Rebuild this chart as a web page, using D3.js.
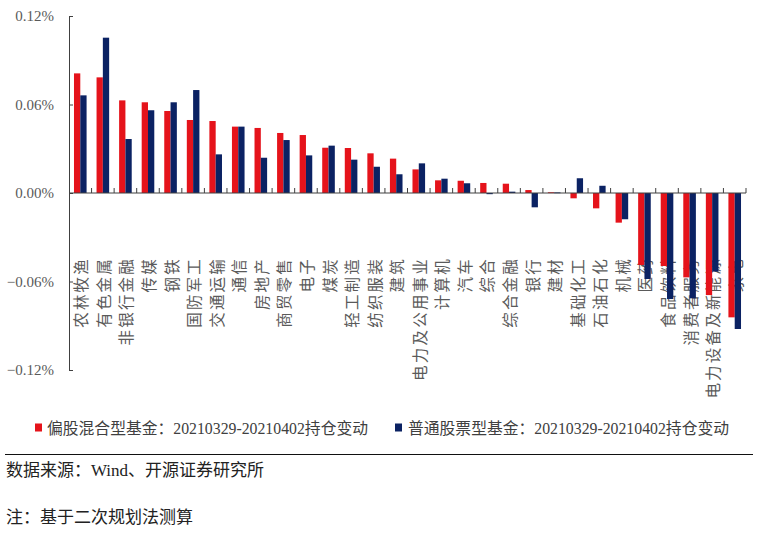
<!DOCTYPE html>
<html>
<head>
<meta charset="utf-8">
<script src="https://cdn.jsdelivr.net/npm/d3@7"></script>
<style>
  html, body { margin: 0; padding: 0; background: #fff; }
  svg { display: block; }
</style>
</head>
<body>
<div id="root"></div>
<script>
// 行业与两类基金持仓变动 (%)
const categories = ["农林牧渔", "有色金属", "非银行金融", "传媒", "钢铁", "国防军工", "交通运输", "通信", "房地产", "商贸零售",
  "电子", "煤炭", "轻工制造", "纺织服装", "建筑", "电力及公用事业", "计算机", "汽车", "综合", "综合金融",
  "银行", "建材", "基础化工", "石油石化", "机械", "医药", "食品饮料", "消费者服务", "电力设备及新能源", "家电"]
const mixedFund = [0.0811, 0.0784, 0.0628, 0.0615, 0.0556, 0.0495, 0.0488, 0.0450, 0.0441, 0.0407,
  0.0393, 0.0307, 0.0305, 0.0269, 0.0233, 0.0160, 0.0086, 0.0083, 0.0068, 0.0063,
  0.0020, 0.0005, -0.0036, -0.0104, -0.0201, -0.0488, -0.0495, -0.0572, -0.0692, -0.0843]
const stockFund = [0.0662, 0.1053, 0.0366, 0.0561, 0.0615, 0.0698, 0.0262, 0.0450, 0.0239, 0.0359,
  0.0255, 0.0321, 0.0226, 0.0178, 0.0127, 0.0201, 0.0097, 0.0066, -0.0008, 0.0009,
  -0.0097, 0.0004, 0.0100, 0.0049, -0.0178, -0.0583, -0.0719, -0.0714, -0.0533, -0.0922]
const yTicks = [-0.12, -0.06, 0, 0.06, 0.12]
const seriesNames = ["偏股混合型基金：20210329-20210402持仓变动", "普通股票型基金：20210329-20210402持仓变动"]
const seriesColors = ["#E5131B", "#0B2263"]
const sourceText = "数据来源：Wind、开源证券研究所"
const noteText = "注：基于二次规划法测算"

const W = 769, H = 535
const plot = { left: 69, right: 746, top: 16, bottom: 370 }
const latinCjk = "'Liberation Serif', 'Noto Sans CJK SC', serif"
const cjk = "'Noto Sans CJK SC', sans-serif"

const svg = d3.select("#root").append("svg")
  .attr("width", W).attr("height", H)

const rows = categories.map((c, i) => ({ cat: c, values: [mixedFund[i], stockFund[i]] }))

const x0 = d3.scaleBand().domain(categories).range([plot.left, plot.right]).padding(0)
const bw = x0.bandwidth()
const x1 = d3.scaleBand().domain([0, 1]).range([bw / 2 - 6.3, bw / 2 + 6.3]).padding(0)
const y = d3.scaleLinear().domain([-0.12, 0.12]).range([plot.bottom, plot.top])

// category labels: rotated -90°, ending at a common top line
const labelTop = 257
svg.append("g").selectAll("text")
  .data(categories)
  .join("text")
  .attr("transform", d => `translate(${x0(d) + bw / 2},${labelTop}) rotate(-90)`)
  .attr("text-anchor", "end")
  .attr("dominant-baseline", "central")
  .attr("font-family", cjk)
  .attr("font-size", 15.5)
  .attr("letter-spacing", 2.2)
  .attr("fill", "#5a5a5a")
  .text(d => d)

// bars
const groups = svg.append("g").selectAll("g")
  .data(rows)
  .join("g")
  .attr("transform", d => `translate(${x0(d.cat)},0)`)
groups.selectAll("rect")
  .data(d => d.values.map((v, s) => ({ v, s })))
  .join("rect")
  .attr("x", d => x1(d.s))
  .attr("width", x1.bandwidth())
  .attr("y", d => Math.min(y(d.v), y(0)))
  .attr("height", d => Math.max(Math.abs(y(d.v) - y(0)), 0.8))
  .attr("fill", d => seriesColors[d.s])

// y axis
const yAxis = svg.append("g")
  .attr("transform", `translate(${plot.left},0)`)
  .call(d3.axisLeft(y).tickValues(yTicks).tickSizeInner(-4).tickSizeOuter(0).tickPadding(15)
    .tickFormat(d => d3.format(".2f")(d) + "%"))
yAxis.select(".domain").attr("stroke", "#404040")
yAxis.selectAll(".tick line").attr("stroke", "#404040")
yAxis.selectAll(".tick text")
  .attr("font-family", latinCjk)
  .attr("font-size", 15)
  .attr("fill", "#5a5a5a")

// x axis at zero
const xAxis = svg.append("g")
  .attr("transform", `translate(0,${y(0)})`)
xAxis.append("line")
  .attr("x1", plot.left).attr("x2", plot.right)
  .attr("stroke", "#404040")
xAxis.selectAll(".tk")
  .data(categories)
  .join("line")
  .attr("class", "tk")
  .attr("x1", d => x0(d) + bw).attr("x2", d => x0(d) + bw)
  .attr("y1", 0).attr("y2", -5)
  .attr("stroke", "#404040")

// legend
const legendPos = [{ sq: 35, tx: 47 }, { sq: 395, tx: 408 }]
const legend = svg.append("g")
legend.selectAll("rect")
  .data(seriesNames)
  .join("rect")
  .attr("x", (d, i) => legendPos[i].sq)
  .attr("y", 423.5)
  .attr("width", 7).attr("height", 8)
  .attr("fill", (d, i) => seriesColors[i])
legend.selectAll("text")
  .data(seriesNames)
  .join("text")
  .attr("x", (d, i) => legendPos[i].tx)
  .attr("y", 428)
  .attr("dominant-baseline", "central")
  .attr("font-family", latinCjk)
  .attr("font-size", 16)
  .attr("fill", "#404040")
  .attr("textLength", 321)
  .attr("lengthAdjust", "spacingAndGlyphs")
  .text(d => d)

// footer
svg.append("line")
  .attr("x1", 5).attr("x2", 753)
  .attr("y1", 454.5).attr("y2", 454.5)
  .attr("stroke", "#111").attr("stroke-width", 1.2)
svg.append("text")
  .attr("x", 6).attr("y", 470)
  .attr("dominant-baseline", "central")
  .attr("font-family", latinCjk)
  .attr("font-size", 17)
  .attr("fill", "#222")
  .text(sourceText)
svg.append("text")
  .attr("x", 6).attr("y", 517)
  .attr("dominant-baseline", "central")
  .attr("font-family", latinCjk)
  .attr("font-size", 17)
  .attr("fill", "#222")
  .text(noteText)
</script>
</body>
</html>
